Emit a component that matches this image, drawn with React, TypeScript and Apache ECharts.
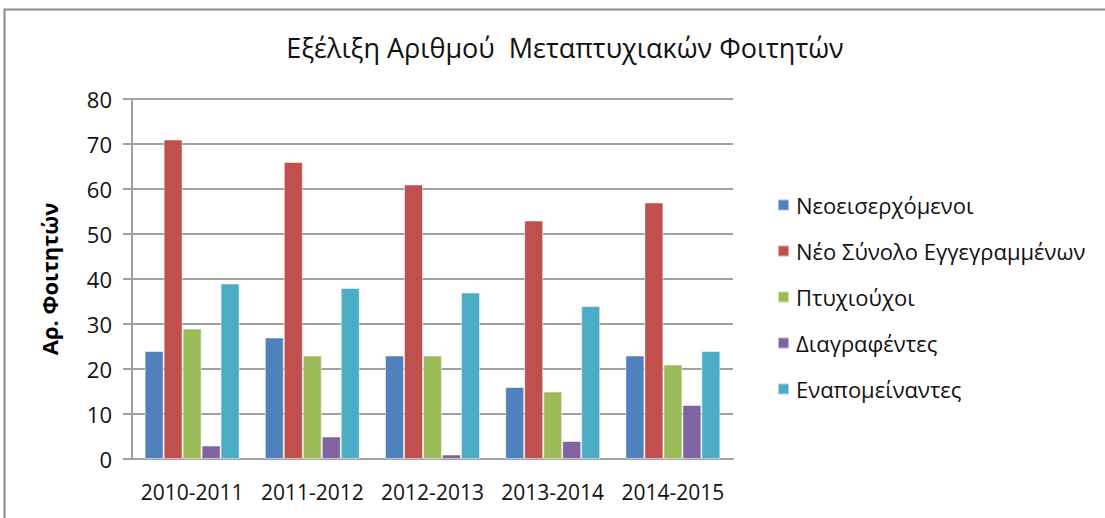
import React, { useEffect, useRef } from "react";
import * as echarts from "echarts";

const categories = ["2010-2011", "2011-2012", "2012-2013", "2013-2014", "2014-2015"];
const seriesNames = [
  "Νεοεισερχόμενοι",
  "Νέο Σύνολο Εγγεγραμμένων",
  "Πτυχιούχοι",
  "Διαγραφέντες",
  "Εναπομείναντες",
];
const neoeiserxomenoi = [24, 27, 23, 16, 23];
const synolo = [71, 66, 61, 53, 57];
const ptyxiouxoi = [29, 23, 23, 15, 21];
const diagrafentes = [3, 5, 1, 4, 12];
const enapomeinantes = [39, 38, 37, 34, 24];
const colors = ["#4F81BD", "#C0504D", "#9BBB59", "#8064A2", "#4BACC6"];
const yTicks = { min: 0, max: 80, interval: 10 };

const FONT = "'Open Sans', 'Noto Sans', sans-serif";

export default function App() {
  const ref = useRef<HTMLDivElement>(null);
  useEffect(() => {
    if (!ref.current) return;
    const chart = echarts.init(ref.current, undefined, { renderer: "svg" });
    const data = [neoeiserxomenoi, synolo, ptyxiouxoi, diagrafentes, enapomeinantes];
    chart.setOption({
      animation: false,
      backgroundColor: "#ffffff",
      color: colors,
      title: {
        text: "Εξέλιξη Αριθμού  Μεταπτυχιακών Φοιτητών",
        left: 560,
        top: 29,
        textAlign: "center",
        textStyle: { fontFamily: FONT, fontSize: 27, fontWeight: "normal", color: "#111" },
      },
      graphic: [
        {
          type: "rect",
          shape: { x: 4.5, y: 9.5, width: 1200, height: 600 },
          style: { fill: "none", stroke: "#8a8a8a", lineWidth: 2 },
          silent: true,
          z: -1,
        },
      ],
      legend: {
        orient: "vertical",
        left: 772,
        top: 189,
        itemWidth: 11,
        itemHeight: 11,
        itemGap: 24,
        icon: "rect",
        textStyle: { fontFamily: FONT, fontSize: 22, color: "#111", padding: [0, 0, 0, 2] },
        data: seriesNames,
      },
      grid: { left: 132, right: 372, top: 99, bottom: 59 },
      xAxis: {
        type: "category",
        data: categories,
        axisLine: { lineStyle: { color: "#a0a0a0", width: 2 } },
        axisTick: { show: false },
        axisLabel: { fontFamily: FONT, fontSize: 21, color: "#111", margin: 22, interval: 0 },
      },
      yAxis: {
        type: "value",
        min: yTicks.min,
        max: yTicks.max,
        interval: yTicks.interval,
        name: "Αρ. Φοιτητών",
        nameLocation: "middle",
        nameGap: 72,
        nameTextStyle: { fontFamily: FONT, fontSize: 22, fontWeight: "bold", color: "#000" },
        axisLine: { show: true, lineStyle: { color: "#a0a0a0", width: 2 } },
        axisTick: { show: true, length: 9, lineStyle: { color: "#a0a0a0", width: 2 } },
        axisLabel: { fontFamily: FONT, fontSize: 22, color: "#111", margin: 20 },
        splitLine: { lineStyle: { color: "#a0a0a0", width: 2 } },
      },
      series: seriesNames.map((name, i) => ({
        name,
        type: "bar",
        data: data[i],
        barGap: "0%",
        barCategoryGap: "21%",
        itemStyle: { color: colors[i], borderColor: "rgba(255,255,255,0.5)", borderWidth: 1 },
      })),
    });
    return () => chart.dispose();
  }, []);
  return (
    <div
      ref={ref}
      style={{ position: "absolute", left: 0, top: 0, width: 1105, height: 518 }}
    />
  );
}
